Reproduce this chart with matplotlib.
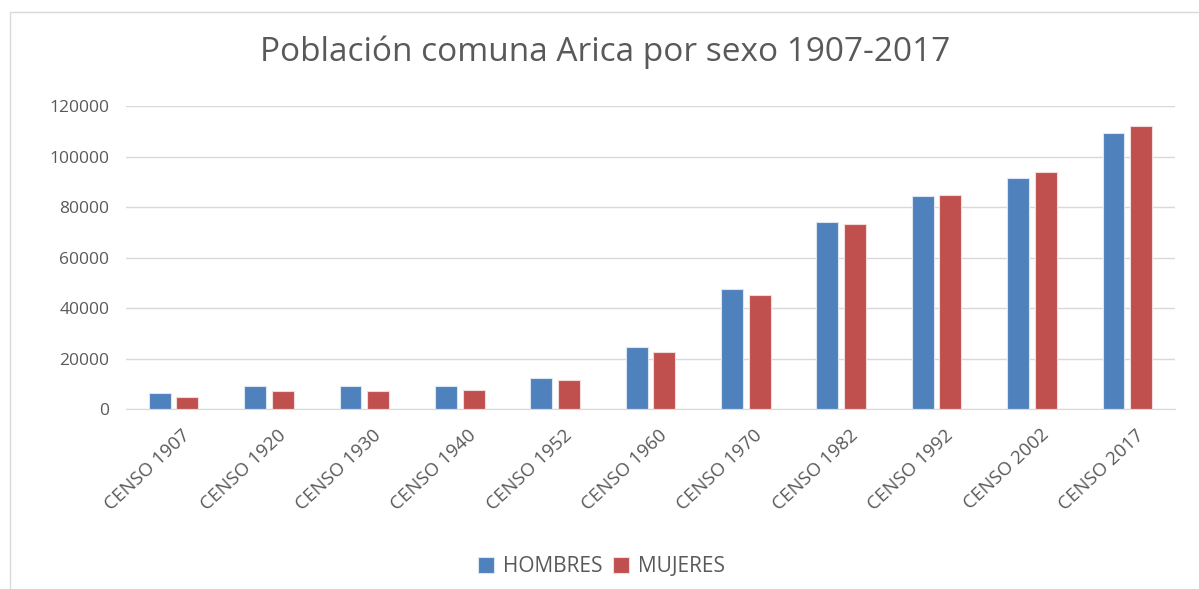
import numpy as np
import matplotlib.pyplot as plt
import matplotlib.transforms as mtransforms
from matplotlib.patches import Rectangle

# Datos
censos = ['CENSO 1907', 'CENSO 1920', 'CENSO 1930', 'CENSO 1940', 'CENSO 1952',
          'CENSO 1960', 'CENSO 1970', 'CENSO 1982', 'CENSO 1992', 'CENSO 2002',
          'CENSO 2017']
hombres = [6300, 9200, 9200, 9200, 12100, 24600, 47400, 73900, 84200, 91500, 109200]
mujeres = [4700, 7000, 7000, 7700, 11400, 22400, 45200, 73100, 84900, 93800, 112100]

azul = '#4f81bd'
rojo = '#c0504d'
gris = '#595959'

plt.rcParams['font.family'] = ['Open Sans', 'DejaVu Sans']

fig = plt.figure(figsize=(11.99, 5.89), dpi=100)
ax = fig.add_axes([0.105, 0.3056, 0.875, 0.5144])

x = np.arange(len(censos))
w = 0.23
ax.bar(x - 0.145, hombres, w, color=azul, edgecolor='#dce6f2', linewidth=0.8, label='HOMBRES')
ax.bar(x + 0.145, mujeres, w, color=rojo, edgecolor='#f2dcdb', linewidth=0.8, label='MUJERES')

ax.set_xlim(-0.5, len(censos) - 0.5)
ax.set_ylim(0, 120000)
ax.set_yticks(range(0, 120001, 20000))
ax.grid(axis='y', color='#d9d9d9', linewidth=1)
ax.set_axisbelow(True)
for s in ['top', 'right', 'left']:
    ax.spines[s].set_visible(False)
ax.spines['bottom'].set_color('#d9d9d9')
ax.tick_params(axis='both', length=0, colors=gris)
ax.tick_params(axis='y', pad=12, labelsize=12.5)
ax.set_xticks(x)
ax.set_xticklabels(censos, rotation=43, ha='right', rotation_mode='anchor', fontsize=13.5)

# mover etiquetas del eje x un poco a la derecha y abajo
desplaz = mtransforms.ScaledTranslation(8 / 100, -12 / 100, fig.dpi_scale_trans)
for lab in ax.get_xticklabels():
    lab.set_transform(lab.get_transform() + desplaz)

fig.text(0.505, 0.912, 'Población comuna Arica por sexo 1907-2017', ha='center', va='center',
         fontsize=24, color=gris)

ax.legend(loc='center', bbox_to_anchor=(0.453, -0.52), ncol=2, frameon=False,
          fontsize=15, labelcolor=gris, handlelength=0.8, handleheight=0.8,
          columnspacing=0.5, handletextpad=0.4)

# borde del gráfico
fig.patches.append(Rectangle((0.008, -0.01), 1.0, 0.99, transform=fig.transFigure,
                             fill=False, edgecolor='#d9d9d9', linewidth=1))

fig.savefig('out.png', dpi=100)
